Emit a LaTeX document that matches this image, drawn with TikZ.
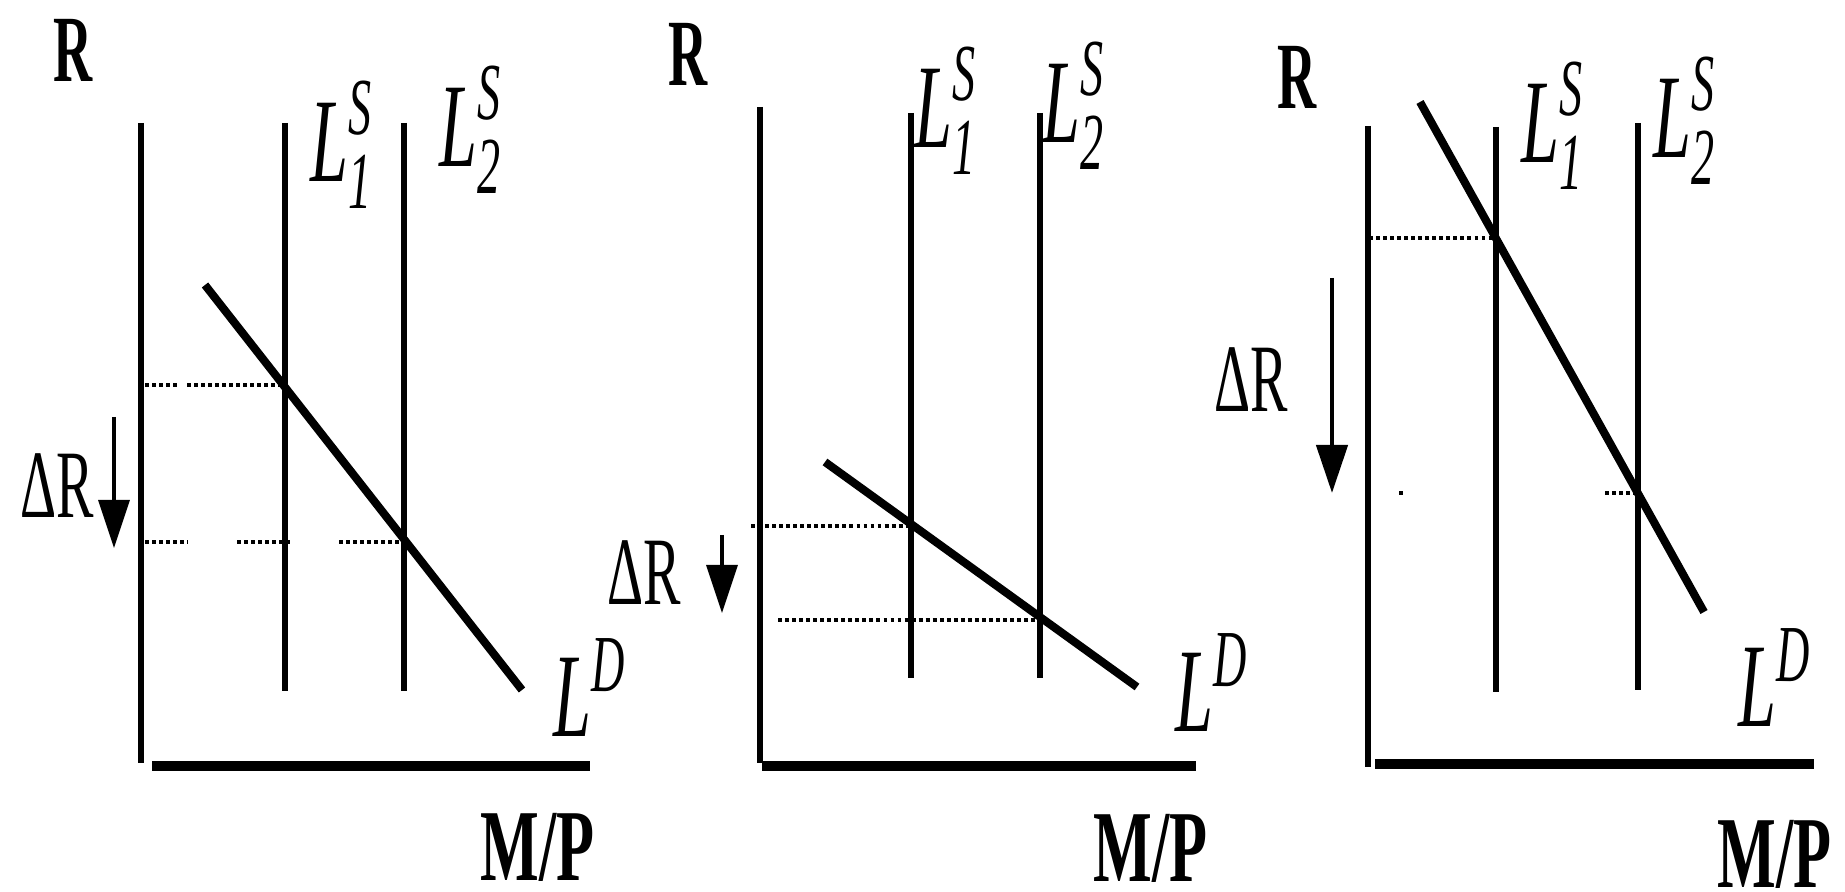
\documentclass[tikz,border=0pt]{standalone}
\usepackage{fontspec}
\usepackage{graphicx}
\setmainfont{Liberation Serif}
\usetikzlibrary{arrows.meta}
\newcommand{\sqz}[2][0.57]{\scalebox{#1}[1]{#2}}
\newcommand{\LSlab}[1]{\sqz{\fontsize{34}{36}\selectfont\itshape L\rlap{\raisebox{0.47cm}{\fontsize{23}{24}\selectfont S}}\raisebox{-0.26cm}{\fontsize{23}{24}\selectfont #1}}}
\newcommand{\LDlab}{\sqz{\fontsize{34}{36}\selectfont\itshape L\raisebox{0.45cm}{\fontsize{23}{24}\selectfont D}}}
\newcommand{\Rlab}{\sqz{\fontsize{27}{30}\selectfont\bfseries R}}
\newcommand{\dRlab}{\sqz[0.58]{\fontsize{27.5}{30}\selectfont ΔR}}
\newcommand{\MPlab}{\sqz[0.61]{\fontsize{29}{32}\selectfont\bfseries M/P}}
\tikzset{
  axisv/.style={line width=1.75pt},
  axish/.style={line width=3.1pt},
  supply/.style={line width=1.7pt},
  demand/.style={line width=2.3pt},
  guide/.style={line width=0.9pt, dash pattern=on 1.1pt off 0.9pt},
  shiftarrow/.style={line width=0.9pt, -{Triangle[width=0.31cm,length=0.48cm]}},
  lab/.style={inner sep=0pt, anchor=base west},
}
\begin{document}
\begin{tikzpicture}[x=0.01cm, y=-0.01cm]
\useasboundingbox (0,0) rectangle (1845,892);

% ---------------- Panel 1 ----------------
\coordinate (p1vt) at (141,123); \coordinate (p1vb) at (141,763);
\coordinate (p1hl) at (152,766); \coordinate (p1hr) at (590,766);
\coordinate (p1s1t) at (285,123); \coordinate (p1s1b) at (285,691);
\coordinate (p1s2t) at (404,123); \coordinate (p1s2b) at (404,691);
\coordinate (p1dt) at (205,285); \coordinate (p1db) at (522,690);
\coordinate (p1e1) at (285,385); \coordinate (p1g1) at (145,385);
\coordinate (p1g1a) at (178,385); \coordinate (p1g1b) at (187,385);
\coordinate (p1e2) at (404,542); \coordinate (p1g2) at (145,542);
\coordinate (p1g2a) at (188,542); \coordinate (p1g2b) at (237,542);
\coordinate (p1g2c) at (293,542); \coordinate (p1g2d) at (339,542);
\coordinate (p1at) at (114,417); \coordinate (p1ab) at (114,548);
\draw[axisv] (p1vt) -- (p1vb);
\draw[axish] (p1hl) -- (p1hr);
\draw[supply] (p1s1t) -- (p1s1b);
\draw[supply] (p1s2t) -- (p1s2b);
\draw[guide] (p1g1) -- (p1g1a);
\draw[guide] (p1g1b) -- (p1e1);
\draw[guide] (p1g2) -- (p1g2a);
\draw[guide] (p1g2b) -- (p1g2c);
\draw[guide] (p1g2d) -- (p1e2);
\draw[demand] (p1dt) -- (p1db);
\draw[shiftarrow] (p1at) -- (p1ab);
\node[lab] (p1R) at (53,82) {\Rlab};
\node[lab] (p1dR) at (20,518) {\dRlab};
\node[lab] (p1L1) at (310,182) {\LSlab{1}};
\node[lab] (p1L2) at (439,167) {\LSlab{2}};
\node[lab] (p1LD) at (553,737) {\LDlab};
\node[lab] (p1MP) at (480,881) {\MPlab};

% ---------------- Panel 2 ----------------
\coordinate (p2vt) at (760,107); \coordinate (p2vb) at (760,763);
\coordinate (p2hl) at (762,766); \coordinate (p2hr) at (1196,766);
\coordinate (p2s1t) at (911,113); \coordinate (p2s1b) at (911,678);
\coordinate (p2s2t) at (1040,113); \coordinate (p2s2b) at (1040,678);
\coordinate (p2dt) at (825,462); \coordinate (p2db) at (1137,687);
\coordinate (p2e1) at (911,526); \coordinate (p2g1) at (751,526);
\coordinate (p2e2) at (1040,620); \coordinate (p2g2) at (778,620);
\coordinate (p2at) at (722,535); \coordinate (p2ab) at (722,613);
\draw[axisv] (p2vt) -- (p2vb);
\draw[axish] (p2hl) -- (p2hr);
\draw[supply] (p2s1t) -- (p2s1b);
\draw[supply] (p2s2t) -- (p2s2b);
\draw[guide] (p2g1) -- (p2e1);
\draw[guide] (p2g2) -- (p2e2);
\draw[demand] (p2dt) -- (p2db);
\draw[shiftarrow] (p2at) -- (p2ab);
\node[lab] (p2R) at (668,86) {\Rlab};
\node[lab] (p2dR) at (607,605) {\dRlab};
\node[lab] (p2L1) at (914,148) {\LSlab{1}};
\node[lab] (p2L2) at (1042,143) {\LSlab{2}};
\node[lab] (p2LD) at (1175,732) {\LDlab};
\node[lab] (p2MP) at (1093,882) {\MPlab};

% ---------------- Panel 3 ----------------
\coordinate (p3vt) at (1368,126); \coordinate (p3vb) at (1368,767);
\coordinate (p3hl) at (1375,764); \coordinate (p3hr) at (1814,764);
\coordinate (p3s1t) at (1496,127); \coordinate (p3s1b) at (1496,692);
\coordinate (p3s2t) at (1638,123); \coordinate (p3s2b) at (1638,690);
\coordinate (p3dt) at (1420,102); \coordinate (p3db) at (1704,612);
\coordinate (p3e1) at (1496,238); \coordinate (p3g1) at (1369,238);
\coordinate (p3e2) at (1638,493); \coordinate (p3g2) at (1605,493);
\coordinate (p3d1a) at (1399,493); \coordinate (p3d1b) at (1406,493);
\coordinate (p3at) at (1332,278); \coordinate (p3ab) at (1332,493);
\draw[axisv] (p3vt) -- (p3vb);
\draw[axish] (p3hl) -- (p3hr);
\draw[supply] (p3s1t) -- (p3s1b);
\draw[supply] (p3s2t) -- (p3s2b);
\draw[guide] (p3g1) -- (p3e1);
\draw[guide] (p3g2) -- (p3e2);
\draw[guide] (p3d1a) -- (p3d1b);
\draw[demand] (p3dt) -- (p3db);
\draw[shiftarrow, line width=1.3pt] (p3at) -- (p3ab);
\node[lab] (p3R) at (1277,109) {\Rlab};
\node[lab] (p3dR) at (1214,412) {\dRlab};
\node[lab] (p3L1) at (1521,163) {\LSlab{1}};
\node[lab] (p3L2) at (1653,158) {\LSlab{2}};
\node[lab] (p3LD) at (1738,727) {\LDlab};
\node[lab] (p3MP) at (1717,888) {\MPlab};
\end{tikzpicture}
\end{document}
